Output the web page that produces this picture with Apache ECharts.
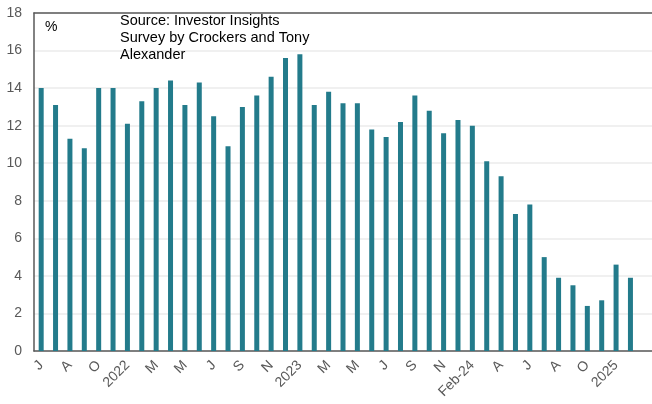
<!DOCTYPE html>
<html>
<head>
<meta charset="utf-8">
<script src="https://cdn.jsdelivr.net/npm/echarts@6/dist/echarts.min.js"></script>
<style>
    html, body {margin: 0; padding: 0; background: #fff;}
    #chart {width: 652px; height: 404px;}
</style>
</head>
<body>
<div id="chart"></div>
<script>
var months = ['J', 'J', 'A', 'S', 'O', 'D', '2022', 'F', 'M', 'A', 'M', 'J', 'J', 'A', 'S', 'O',
    'N', 'D', '2023', 'F', 'M', 'A', 'M', 'J', 'J', 'A', 'S', 'O', 'N', 'D', 'Feb-24', 'M',
    'A', 'M', 'J', 'J', 'A', 'S', 'O', 'N', '2025', 'F', ''];
var values = [14.0, 13.1, 11.3, 10.8, 14.0, 14.0, 12.1, 13.3, 14.0, 14.4, 13.1, 14.3,
    12.5, 10.9, 13.0, 13.6, 14.6, 15.6, 15.8, 13.1, 13.8, 13.2, 13.2, 11.8,
    11.4, 12.2, 13.6, 12.8, 11.6, 12.3, 12.0, 10.1, 9.3, 7.3, 7.8, 5.0,
    3.9, 3.5, 2.4, 2.7, 4.6, 3.9, null];
var sourceLines = ['Source: Investor Insights', 'Survey by Crockers and Tony', 'Alexander'];

var chart = echarts.init(document.getElementById('chart'));
var font = 'Liberation Sans, Arial, sans-serif';
var axisGrey = '#595959';

var option = {
    animation: false,
    textStyle: {fontFamily: font},
    grid: {left: 34, top: 13, right: -4, bottom: 53},
    graphic: [{
        type: 'text', left: 45, top: 20, z: 100,
        style: {text: '%', font: '14px ' + font, fill: '#000'}
    }, {
        type: 'text', left: 120, top: 13, z: 100,
        style: {text: sourceLines.join('\n'), font: '14.5px ' + font, lineHeight: 16.8,
            fill: '#000', backgroundColor: 'transparent'}
    }],
    xAxis: [{
        type: 'category',
        data: months,
        axisLine: {lineStyle: {color: axisGrey, width: 1.5}},
        axisTick: {show: false},
        axisLabel: {interval: 1, rotate: 45, color: axisGrey, fontSize: 14, margin: 12}
    }, {
        // top frame line only
        type: 'category',
        position: 'top',
        data: months,
        axisLine: {lineStyle: {color: axisGrey, width: 1.5}},
        axisTick: {show: false},
        axisLabel: {show: false}
    }],
    yAxis: {
        type: 'value',
        min: 0, max: 18, interval: 2,
        axisLine: {show: true, lineStyle: {color: axisGrey, width: 1.5}},
        axisTick: {show: false},
        axisLabel: {color: axisGrey, fontSize: 14, margin: 12},
        splitLine: {lineStyle: {color: '#ebebeb', width: 1.5}}
    },
    series: [{
        type: 'bar',
        data: values,
        barWidth: 5,
        itemStyle: {color: '#237b8b'}
    }]
};
chart.setOption(option);
</script>
</body>
</html>
